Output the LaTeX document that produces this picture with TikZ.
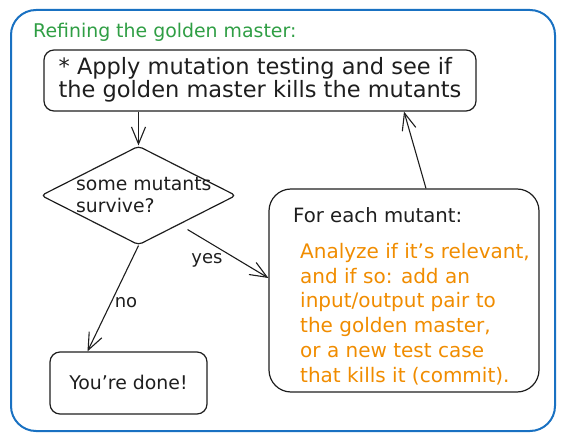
\documentclass[tikz,border=0pt]{standalone}
\usepackage{fontspec}
\setmainfont{DejaVu Sans}
\usetikzlibrary{shapes.geometric,arrows.meta,calc}
\definecolor{ink}{HTML}{1E1E1E}
\definecolor{exgreen}{HTML}{2F9E44}
\definecolor{exorange}{HTML}{F08C00}
\definecolor{exblue}{HTML}{1971C2}
\begin{document}
\begin{tikzpicture}[x=1pt,y=-1pt,
  box/.style={draw=ink, line width=1.2pt, inner sep=0pt},
  conn/.style={draw=ink, line width=1.1pt, -{Straight Barb[length=17pt,width=14pt,line width=1.1pt]}},
  lbl/.style={text=ink, inner sep=0pt, font=\fontsize{18}{21}\selectfont},
  main/.style={text=ink, inner sep=0pt, align=left, font=\fontsize{18}{23}\selectfont}]
\useasboundingbox (0,0) rectangle (566,441);
\node[draw=exblue, line width=2pt, rounded corners=25pt, minimum width=544pt, minimum height=421pt, inner sep=0pt] (frame) at (283,220.5) {};
\node[anchor=base west, text=exgreen, inner sep=0pt, font=\fontsize{18.9}{22}\selectfont] (title) at (33,38) {Refining the golden master:};
\node[box, rounded corners=10pt, minimum width=432pt, minimum height=61pt] (top) at (260,80.5) {};
\node[main, font=\fontsize{22.5}{23}\selectfont] (toptext) at (260,80) {* Apply mutation testing and see if\\the golden master kills the mutants};
\node[box, diamond, rounded corners=4pt, minimum width=195pt, minimum height=99pt] (dia) at (138.5,195.5) {};
\node[main, anchor=base west, font=\fontsize{18.8}{22}\selectfont] (diatext) at (76,213) {some mutants\\survive?};
\node[box, rounded corners=22pt, minimum width=270pt, minimum height=203pt] (each) at (404,290.5) {};
\node[main, anchor=base west, font=\fontsize{19.7}{22}\selectfont] (eachhead) at (293,223) {For each mutant:};
\node[main, anchor=base west, text=exorange, font=\fontsize{20}{24.7}\selectfont] (eachbody) at (300,382) {Analyze if it's relevant,\\and if so: add an\\input/output pair to\\the golden master,\\or a new test case\\that kills it (commit).};
\node[box, rounded corners=10pt, minimum width=157pt, minimum height=62pt] (done) at (128.5,383) {};
\node[main, anchor=base, font=\fontsize{18.9}{22}\selectfont] (donetext) at (128.5,390) {You're done!};
\draw[conn] (top.south -| dia.north) -- (dia.north);
\draw[conn] (dia.south) -- ([xshift=-41pt]done.north);
\draw[conn] ([yshift=-9pt]$(dia.east)!0.5!(dia.south)$) coordinate (ystart) -- ([yshift=12.5pt]each.west);
\draw[conn] ([xshift=22pt]each.north) -- (top.south -| each.north);
\node[lbl] (yes) at (207,260) {yes};
\node[lbl] (no) at (126,303) {no};
\end{tikzpicture}
\end{document}
